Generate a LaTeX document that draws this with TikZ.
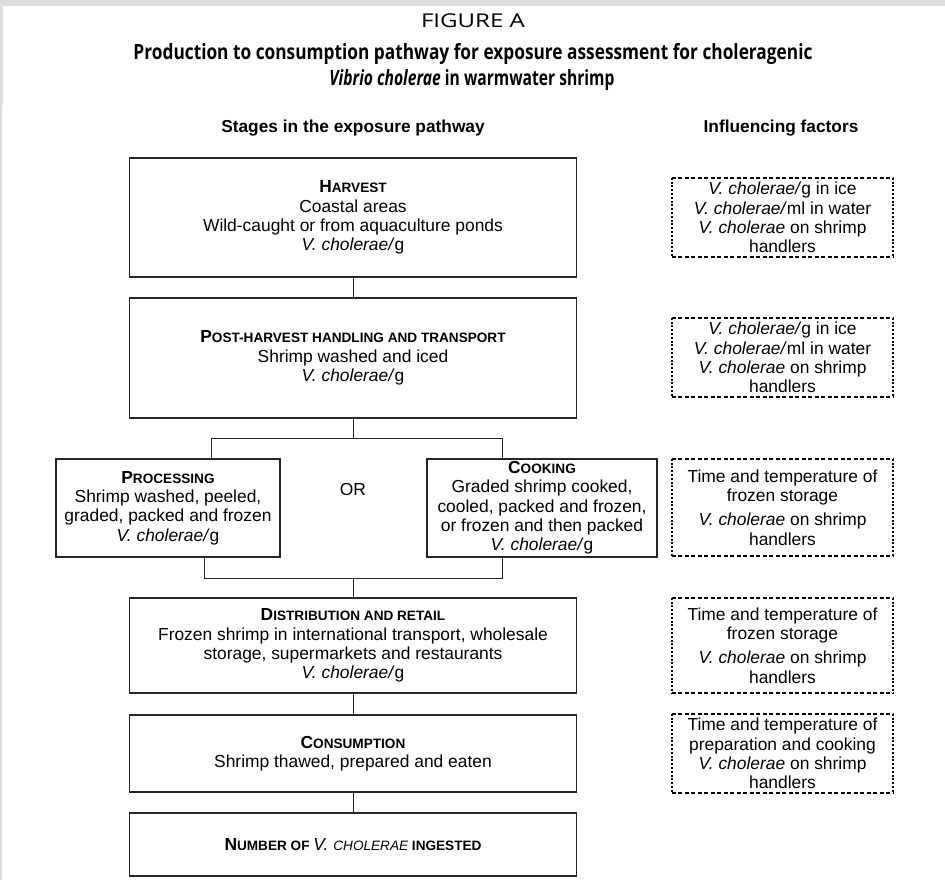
\documentclass[tikz,border=0pt]{standalone}
\usepackage{fontspec}
\usepackage{graphicx}
\setmainfont{Liberation Sans}
\newfontfamily\titlefont{Open Sans}
\newcommand\boxfont{\fontsize{17.4}{19.3}\selectfont}
\newcommand\scbig{\fontsize{17.4}{19.3}\selectfont}
\newcommand\scsmall{\fontsize{13.6}{19.3}\selectfont}
\newcommand\schead[2]{{\bfseries\scbig #1\scsmall #2}}
\definecolor{bandgray}{HTML}{DCDDDE}
\begin{document}
\begin{tikzpicture}[x=1pt,y=-1pt]
\tikzset{
  stage/.style={draw=black!85, line width=1.3pt, align=center, inner sep=0pt, font=\boxfont},
  factor/.style={align=center, inner sep=0pt, font=\boxfont},
  conn/.style={draw=black!85, line width=1pt},
  dsh/.style={line width=1.6pt, dash pattern=on 4pt off 2.5pt},
  dotside/.style={line width=1.8pt, dash pattern=on 2pt off 1.8pt},
  colhead/.style={font=\bfseries\fontsize{17.3}{19}\selectfont, inner sep=0pt},
}
\useasboundingbox (0,0) rectangle (945,880);
\fill[white] (0,0) rectangle (945,880);
\fill[bandgray] (0,0) rectangle (945,6);
\fill[bandgray] (0,0) rectangle (3,105);
\fill[bandgray] (0,105) rectangle (2,880);

% titles
\node[inner sep=0pt] (figa) at (473,21) {\resizebox{104pt}{\height}{\titlefont\fontsize{19}{21}\selectfont FIGURE A}};
\node[inner sep=0pt, anchor=base] (t1) at (473,59.5) {\resizebox{679pt}{\height}{\titlefont\bfseries\fontsize{21}{24}\selectfont Production to consumption pathway for exposure assessment for choleragenic}};
\node[inner sep=0pt, anchor=base] (t2) at (472,85.5) {\resizebox{285pt}{\height}{\titlefont\bfseries\fontsize{21}{24}\selectfont\textit{Vibrio cholerae} in warmwater shrimp}};

% column headers
\node[colhead] (h1) at (353,128) {Stages in the exposure pathway};
\node[colhead] (h2) at (781,128) {Influencing factors};

% stages
\node[stage, minimum width=447pt, minimum height=119pt] (harv) at (353,217.5)
  {\schead{H}{ARVEST}\\ Coastal areas\\ Wild-caught or from aquaculture ponds\\ \textit{V. cholerae/}g};
\node[stage, minimum width=447pt, minimum height=120pt] (post) at (353,358)
  {\schead{P}{OST-HARVEST HANDLING AND TRANSPORT}\\ Shrimp washed and iced\\ \textit{V. cholerae/}g};
\node[stage, minimum width=224pt, minimum height=98pt] (proc) at (168,508)
  {\schead{P}{ROCESSING}\\ Shrimp washed, peeled,\\ graded, packed and frozen\\ \textit{V. cholerae/}g};
\node[stage, minimum width=230pt, minimum height=98pt] (cook) at (542,508)
  {\schead{C}{OOKING}\\ Graded shrimp cooked,\\ cooled, packed and frozen,\\ or frozen and then packed\\ \textit{V. cholerae/}g};
\node[inner sep=0pt, font=\boxfont] (or) at (353,490) {OR};
\node[stage, minimum width=447pt, minimum height=95pt] (dist) at (353,645.5)
  {\schead{D}{ISTRIBUTION AND RETAIL}\\ Frozen shrimp in international transport, wholesale\\ storage, supermarkets and restaurants\\ \textit{V. cholerae/}g};
\node[stage, minimum width=447pt, minimum height=77pt] (cons) at (353,753.5)
  {\schead{C}{ONSUMPTION}\\ Shrimp thawed, prepared and eaten};
\node[stage, minimum width=447pt, minimum height=63pt] (numb) at (353,844.5)
  {{\bfseries\scbig N\scsmall UMBER OF }{\itshape\scbig V. \scsmall CHOLERAE }{\bfseries\scsmall INGESTED}};

% connectors
\draw[conn] (harv.south) -- (post.north);
\coordinate (jt) at (353,438);
\coordinate (jtl) at (211,438);
\coordinate (jtr) at (502,438);
\draw[conn] (post.south) -- (jt);
\draw[conn] (proc.north -| jtl) |- (jtr) -- (cook.north -| jtr);
\coordinate (jb) at (353,578);
\coordinate (jbl) at (204,578);
\coordinate (jbr) at (502,578);
\draw[conn] (proc.south -| jbl) |- (jbr) -- (cook.south -| jbr);
\draw[conn] (jb) -- (dist.north);
\draw[conn] (dist.south) -- (cons.north);
\draw[conn] (cons.south) -- (numb.north);

% influencing factors
\node[factor, minimum width=221pt, minimum height=79pt] (f1) at (782.5,217.5)
  {\textit{V. cholerae/}g in ice\\ \textit{V. cholerae/}ml in water\\ \textit{V. cholerae} on shrimp\\ handlers};
\node[factor, minimum width=221pt, minimum height=79pt] (f2) at (782.5,357.5)
  {\textit{V. cholerae/}g in ice\\ \textit{V. cholerae/}ml in water\\ \textit{V. cholerae} on shrimp\\ handlers};
\node[factor, minimum width=221pt, minimum height=97pt] (f3) at (782.5,507.5)
  {Time and temperature of\\ frozen storage\\[5pt] \textit{V. cholerae} on shrimp\\ handlers};
\node[factor, minimum width=221pt, minimum height=95pt] (f4) at (782.5,645.5)
  {Time and temperature of\\ frozen storage\\[5pt] \textit{V. cholerae} on shrimp\\ handlers};
\node[factor, minimum width=221pt, minimum height=79pt] (f5) at (782.5,753.5)
  {Time and temperature of\\ preparation and cooking\\ \textit{V. cholerae} on shrimp\\ handlers};
\foreach \f in {f1,f2,f3,f4,f5}{
  \draw[dsh] (\f.north west) -- (\f.north east);
  \draw[dsh] (\f.south west) -- (\f.south east);
  \draw[dotside] (\f.north west) -- (\f.south west);
  \draw[dotside] (\f.north east) -- (\f.south east);
}
\end{tikzpicture}
\end{document}
